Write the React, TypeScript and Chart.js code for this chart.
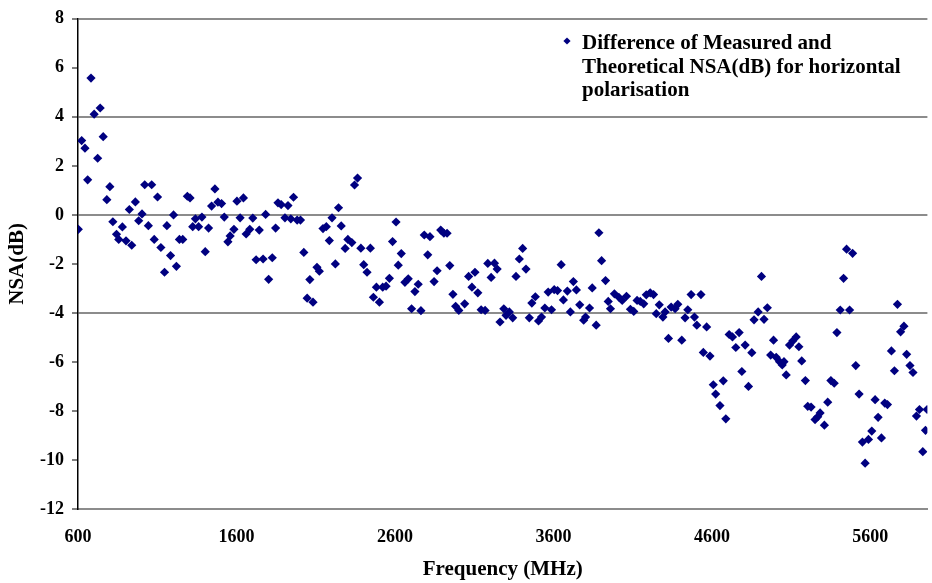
import React, { useEffect, useRef } from "react";
import { Chart, registerables } from "chart.js";

Chart.register(...registerables);

// Frequency (MHz) of each measured point
const frequencies: number[] = [
  602, 623, 644, 661, 682, 702, 724, 740, 759, 782, 801, 820, 843, 857, 880, 903, 924, 939, 962, 983,
  1004, 1021, 1044, 1065, 1081, 1102, 1123, 1146, 1161, 1184, 1203, 1221, 1240, 1261, 1290, 1307, 1324, 1341, 1361, 1382,
  1403, 1424, 1443, 1464, 1483, 1506, 1523, 1546, 1560, 1584, 1603, 1623, 1644, 1661, 1684, 1703, 1724, 1744, 1768, 1784,
  1803, 1826, 1847, 1862, 1882, 1906, 1925, 1943, 1960, 1983, 2004, 2025, 2046, 2063, 2083, 2108, 2123, 2146, 2167, 2186,
  2203, 2224, 2244, 2261, 2286, 2303, 2328, 2345, 2364, 2385, 2403, 2424, 2445, 2464, 2483, 2502, 2523, 2544, 2565, 2585,
  2607, 2621, 2640, 2663, 2684, 2705, 2726, 2747, 2764, 2785, 2807, 2821, 2847, 2866, 2889, 2909, 2929, 2946, 2966, 2983,
  3003, 3040, 3065, 3086, 3105, 3123, 3144, 3169, 3186, 3207, 3228, 3245, 3263, 3287, 3301, 3322, 3343, 3364, 3385, 3406,
  3427, 3448, 3464, 3486, 3506, 3525, 3546, 3567, 3588, 3605, 3626, 3649, 3663, 3688, 3707, 3726, 3745, 3766, 3791, 3803,
  3828, 3845, 3870, 3887, 3904, 3929, 3946, 3960, 3985, 4013, 4034, 4061, 4086, 4107, 4128, 4148, 4170, 4186, 4211, 4232,
  4249, 4268, 4291, 4305, 4326, 4343, 4368, 4385, 4410, 4431, 4448, 4469, 4490, 4505, 4531, 4546, 4567, 4588, 4609, 4624,
  4651, 4672, 4688, 4709, 4730, 4751, 4772, 4789, 4810, 4831, 4852, 4866, 4892, 4913, 4929, 4950, 4971, 4989, 5006, 5027,
  5044, 5055, 5069, 5090, 5111, 5132, 5149, 5167, 5190, 5205, 5226, 5251, 5268, 5283, 5310, 5331, 5351, 5372, 5389, 5410,
  5431, 5450, 5469, 5488, 5508, 5529, 5550, 5567, 5588, 5609, 5630, 5649, 5670, 5691, 5708, 5733, 5752, 5771, 5791, 5812,
  5829, 5850, 5869, 5891, 5910, 5931, 5948, 5958,
];

// Difference of measured and theoretical NSA (dB)
const nsaDifference: number[] = [
  -0.59, 3.03, 2.72, 1.43, 5.58, 4.11, 2.31, 4.36, 3.19, 0.62, 1.15, -0.28, -0.79, -1.0, -0.49, -1.06, 0.22, -1.24, 0.53, -0.24,
  0.04, 1.23, -0.44, 1.23, -1.0, 0.73, -1.33, -2.34, -0.44, -1.66, 0.0, -2.1, -1.0, -1.0, 0.76, 0.69, -0.48, -0.16, -0.48, -0.09,
  -1.5, -0.54, 0.36, 1.06, 0.52, 0.46, -0.09, -1.1, -0.86, -0.59, 0.56, -0.12, 0.69, -0.78, -0.59, -0.13, -1.83, -0.62, -1.8, 0.02,
  -2.63, -1.75, -0.54, 0.49, 0.42, -0.12, 0.38, -0.16, 0.72, -0.21, -0.21, -1.53, -3.4, -2.64, -3.56, -2.14, -2.3, -0.56, -0.48, -1.05,
  -0.12, -2.0, 0.29, -0.45, -1.37, -1.0, -1.13, 1.22, 1.5, -1.36, -2.03, -2.34, -1.36, -3.36, -2.95, -3.56, -2.95, -2.91, -2.59, -1.09,
  -0.29, -2.05, -1.58, -2.75, -2.61, -3.83, -3.13, -2.83, -3.91, -0.82, -1.63, -0.89, -2.72, -2.28, -0.62, -0.75, -0.75, -2.07, -3.24, -3.73,
  -3.9, -3.63, -2.51, -2.95, -2.34, -3.18, -3.87, -3.9, -1.98, -2.55, -1.97, -2.21, -4.37, -3.83, -4.1, -3.96, -4.2, -2.51, -1.8, -1.37,
  -2.21, -4.2, -3.6, -3.34, -4.33, -4.17, -3.8, -3.15, -3.87, -3.05, -3.09, -2.03, -3.47, -3.11, -3.96, -2.72, -3.06, -3.67, -4.3, -4.17,
  -3.8, -2.98, -4.5, -0.73, -1.87, -2.68, -3.53, -3.83, -3.22, -3.36, -3.49, -3.32, -3.85, -3.94, -3.49, -3.53, -3.63, -3.26, -3.18, -3.25,
  -4.03, -3.67, -4.17, -3.96, -5.04, -3.76, -3.83, -3.65, -5.11, -4.2, -3.87, -3.25, -4.17, -4.5, -3.25, -5.61, -4.57, -5.76, -6.93, -7.31,
  -7.78, -6.77, -8.32, -4.88, -4.98, -5.41, -4.8, -6.39, -5.31, -7.0, -5.62, -4.28, -3.96, -2.51, -4.26, -3.79, -5.72, -5.11, -5.81, -5.99,
  -6.12, -5.99, -6.53, -5.31, -5.14, -4.98, -5.38, -5.96, -6.76, -7.81, -7.84, -8.35, -8.24, -8.08, -8.58, -7.64, -6.76, -6.87, -4.8, -3.88,
  -2.59, -1.4, -3.88, -1.57, -6.15, -7.31, -9.27, -10.13, -9.16, -8.82, -7.54, -8.26, -9.1, -7.68, -7.74, -5.55, -6.36, -3.65, -4.77, -4.54,
  -5.69, -6.15, -6.43, -8.21, -7.94, -9.66, -8.79, -7.94,
];

const xTickValues: number[] = [600, 1600, 2600, 3600, 4600, 5600];
const yGridLevels: number[] = [8, 4, 0, -4];
const legendLines: string[] = [
  "Difference of Measured and",
  "Theoretical NSA(dB) for horizontal",
  "polarisation",
];
const xTitle = "Frequency (MHz)";
const yTitle = "NSA(dB)";

const NAVY = "#000080";
const FONT_FAMILY = '"Liberation Serif", "Times New Roman", serif';

const legendPlugin = {
  id: "wrappedLegend",
  afterDraw(chart: any) {
    const ctx = chart.ctx as CanvasRenderingContext2D;
    ctx.save();
    const mx = 567;
    const my = 41;
    const r = 3.6;
    ctx.fillStyle = NAVY;
    ctx.beginPath();
    ctx.moveTo(mx, my - r);
    ctx.lineTo(mx + r, my);
    ctx.lineTo(mx, my + r);
    ctx.lineTo(mx - r, my);
    ctx.closePath();
    ctx.fill();
    ctx.fillStyle = "#000";
    ctx.font = `bold 21px ${FONT_FAMILY}`;
    ctx.textAlign = "left";
    ctx.textBaseline = "alphabetic";
    legendLines.forEach((line, i) => {
      ctx.fillText(line, 582, 49 + i * 23.5);
    });
    ctx.restore();
  },
};

export default function App() {
  const canvasRef = useRef<HTMLCanvasElement | null>(null);

  useEffect(() => {
    if (!canvasRef.current) return;
    const points = frequencies.map((f, i) => ({ x: f, y: nsaDifference[i] }));
    const chart = new Chart(canvasRef.current, {
      type: "scatter",
      data: {
        datasets: [
          {
            label: legendLines.join(" "),
            data: points,
            pointStyle: "rectRot",
            pointRadius: 4.6,
            pointHoverRadius: 4.6,
            backgroundColor: NAVY,
            borderColor: NAVY,
            borderWidth: 0,
          },
        ],
      },
      options: {
        animation: false,
        responsive: false,
        devicePixelRatio: 1,
        layout: { padding: { top: 14, right: 0, bottom: 0, left: 0 } },
        plugins: {
          legend: { display: false },
          tooltip: { enabled: false },
        },
        scales: {
          x: {
            type: "linear",
            min: 600,
            max: 5960,
            afterBuildTicks: (scale: any) => {
              scale.ticks = xTickValues.map((v) => ({ value: v }));
            },
            afterFit: (scale: any) => {
              scale.height = 74;
            },
            grid: { display: false, drawTicks: false },
            border: { display: true, color: "#8c8c8c", width: 2 },
            ticks: {
              color: "#000",
              font: { family: FONT_FAMILY, size: 18, weight: "bold" },
              padding: 18,
              maxRotation: 0,
              autoSkip: false,
              callback: (v: any) => String(v),
            },
            title: {
              display: true,
              text: xTitle,
              color: "#000",
              font: { family: FONT_FAMILY, size: 21, weight: "bold" },
              padding: { top: 0, bottom: 1 },
            },
          },
          y: {
            min: -12,
            max: 8,
            afterFit: (scale: any) => {
              scale.width = 78;
            },
            ticks: {
              stepSize: 2,
              color: "#000",
              font: { family: FONT_FAMILY, size: 18, weight: "bold" },
              padding: 8,
            },
            grid: {
              color: (c: any) =>
                yGridLevels.includes(c.tick?.value) ? "#8c8c8c" : "rgba(0,0,0,0)",
              lineWidth: 2,
              tickColor: "#000",
              tickWidth: 1,
              tickLength: 6,
            },
            border: { display: true, color: "#000", width: 1.5 },
            title: {
              display: true,
              text: yTitle,
              color: "#000",
              font: { family: FONT_FAMILY, size: 21, weight: "bold" },
              padding: { top: 5, bottom: 0 },
            },
          },
        },
      },
      plugins: [legendPlugin],
    });
    return () => chart.destroy();
  }, []);

  return (
    <div style={{ position: "absolute", left: 0, top: 0, width: 932, height: 583, background: "#fff" }}>
      <canvas ref={canvasRef} width={932} height={583} />
    </div>
  );
}
